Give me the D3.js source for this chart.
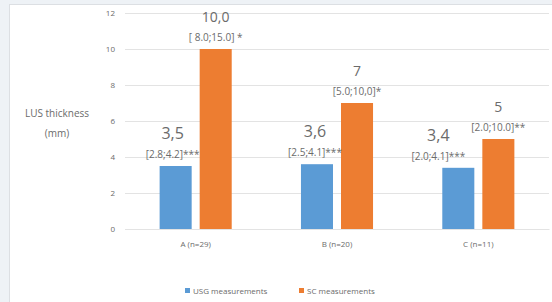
<!DOCTYPE html>
<html>
<head>
<meta charset="utf-8">
<script src="https://cdn.jsdelivr.net/npm/d3@7"></script>
<style>
	body { margin: 0; background: #eef2f6; }
	svg { display: block; font-family: "Open Sans", "Liberation Sans", sans-serif; }
</style>
</head>
<body>
<div id="chart"></div>
<script>
// Data
const categories = ["A (n=29)", "B (n=20)", "C (n=11)"]
const seriesNames = ["USG measurements", "SC measurements"]
const usgValues = [3.5, 3.6, 3.4]
const scValues = [10.0, 7, 5]
const usgValueLabels = ["3,5", "3,6", "3,4"]
const scValueLabels = ["10,0", "7", "5"]
const usgRangeLabels = ["[2.8;4.2]***", "[2.5;4.1]***", "[2.0;4.1]***"]
const scRangeLabels = ["[ 8.0;15.0] *", "[5.0;10,0]*", "[2.0;10.0]**"]
const yTicks = [0, 2, 4, 6, 8, 10, 12]

// label nudges (px) for the USG labels, the picture shifts the last one left
const usgLabelShift = [-3, -2, -20]

const colors = ["#5b9bd5", "#ed7d31"]
const textColor = "#6b6b6b"

const width = 552, height = 302
const margin = { top: 13, left: 125, right: 3, bottom: 73 }

const svg = d3.select("#chart")
	.append("svg")
	.attr("width", width)
	.attr("height", height)

// outer frame
svg.append("rect")
	.attr("width", width).attr("height", height)
	.attr("fill", "#eef2f6")
svg.append("rect")
	.attr("x", 9.5).attr("y", 4.5)
	.attr("width", width - 9).attr("height", height)
	.attr("fill", "#ffffff")
	.attr("stroke", "#dcdfe3")

// Scales
const yScale = d3.scaleLinear()
	.domain([0, 12])
	.range([height - margin.bottom, margin.top])

const x0 = d3.scaleBand()
	.domain(categories)
	.range([margin.left, width - margin.right])
	.paddingInner(0.49)
	.paddingOuter(0.245)

const x1 = d3.scaleBand()
	.domain(seriesNames)
	.range([0, x0.bandwidth()])
	.paddingInner(0.2)

// grid + y tick labels
const yAxis = d3.axisLeft(yScale)
	.tickValues(yTicks)
	.tickSize(-(width - margin.right - margin.left))
	.tickPadding(10)
const yAxisGroup = svg.append("g")
	.attr("transform", `translate(${margin.left},0)`)
	.call(yAxis)
yAxisGroup.select(".domain").remove()
yAxisGroup.selectAll("line").attr("stroke", "#e3e3e3")
yAxisGroup.selectAll("text")
	.attr("font-size", "8px")
	.attr("fill", textColor)
	.attr("font-family", "Open Sans, sans-serif")

// x category labels
const xAxis = d3.axisBottom(x0).tickSize(0).tickPadding(12)
const xAxisGroup = svg.append("g")
	.attr("transform", `translate(0,${yScale(0)})`)
	.call(xAxis)
xAxisGroup.select(".domain").attr("stroke", "#e3e3e3")
xAxisGroup.selectAll("text")
	.attr("font-size", "8px")
	.attr("fill", textColor)
	.attr("font-family", "Open Sans, sans-serif")

// y title
svg.append("text")
	.attr("x", 57).attr("y", 117)
	.attr("text-anchor", "middle")
	.attr("font-size", "10px")
	.attr("fill", textColor)
	.text("LUS thickness")
svg.append("text")
	.attr("x", 57).attr("y", 137)
	.attr("text-anchor", "middle")
	.attr("font-size", "10px")
	.attr("fill", textColor)
	.text("(mm)")

// Bars
const rows = categories.map((c, i) => ({
	cat: c,
	vals: [
		{ s: seriesNames[0], v: usgValues[i], lab: usgValueLabels[i], rng: usgRangeLabels[i], shift: usgLabelShift[i] },
		{ s: seriesNames[1], v: scValues[i], lab: scValueLabels[i], rng: scRangeLabels[i], shift: 0 }
	]
}))

const groups = svg.append("g").selectAll("g")
	.data(rows)
	.join("g")
	.attr("transform", (d) => `translate(${x0(d.cat)},0)`)

groups.selectAll("rect")
	.data((d) => d.vals)
	.join("rect")
	.attr("x", (d) => x1(d.s))
	.attr("y", (d) => yScale(d.v))
	.attr("width", x1.bandwidth())
	.attr("height", (d) => yScale(0) - yScale(d.v))
	.attr("fill", (d, i) => colors[i])

// value labels
groups.selectAll("text.val")
	.data((d) => d.vals)
	.join("text")
	.attr("class", "val")
	.attr("x", (d) => x1(d.s) + x1.bandwidth() / 2 + d.shift)
	.attr("y", (d) => yScale(d.v) - 27)
	.attr("text-anchor", "middle")
	.attr("font-size", (d, i) => i === 0 ? "16px" : "14px")
	.attr("fill", textColor)
	.text((d) => d.lab)

groups.selectAll("text.rng")
	.data((d) => d.vals)
	.join("text")
	.attr("class", "rng")
	.attr("x", (d) => x1(d.s) + x1.bandwidth() / 2 + d.shift)
	.attr("y", (d) => yScale(d.v) - 8)
	.attr("text-anchor", "middle")
	.attr("font-size", "10px")
	.attr("fill", textColor)
	.text((d) => d.rng)

// Legend
const legend = svg.append("g")
	.attr("transform", "translate(185,294)")
const legendX = [0, 114]
seriesNames.forEach((s, i) => {
	legend.append("rect")
		.attr("x", legendX[i]).attr("y", -6)
		.attr("width", 5).attr("height", 5)
		.attr("fill", colors[i])
	legend.append("text")
		.attr("x", legendX[i] + 8).attr("y", 0)
		.attr("font-size", "8px")
		.attr("fill", textColor)
		.text(s)
})
</script>
</body>
</html>
